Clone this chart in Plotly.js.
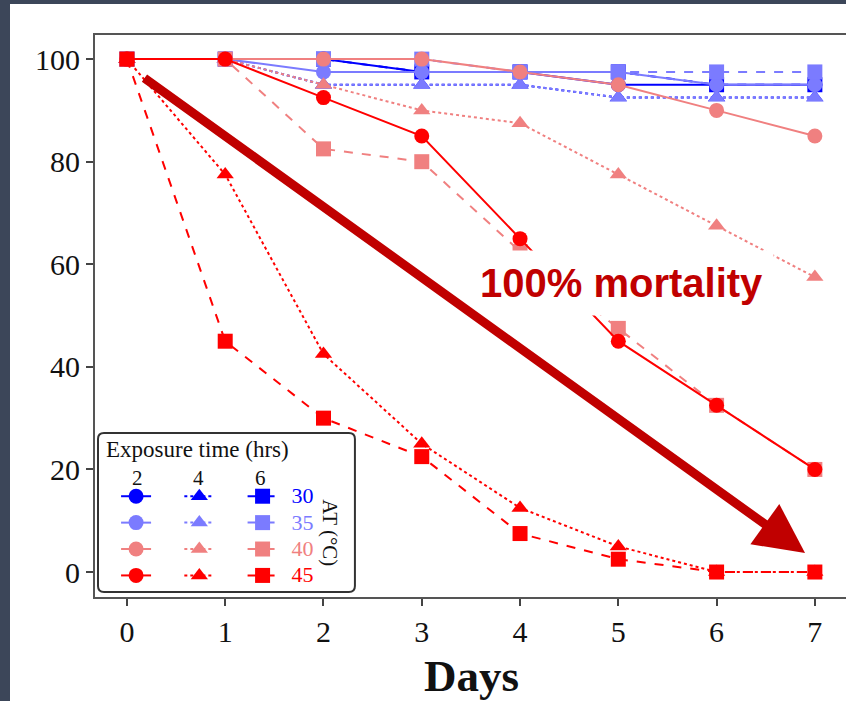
<!DOCTYPE html>
<html>
<head>
<meta charset="utf-8">
<script src="https://cdn.plot.ly/plotly-3.0.1.min.js"></script>
<style>
  html, body { margin: 0; padding: 0; width: 846px; height: 701px; overflow: hidden; background: #3c4659; }
  #panel { position: absolute; left: 10px; top: 4px; right: 0; bottom: 0; background: #ffffff; }
  #plot { position: absolute; left: 0; top: 0; width: 880px; height: 701px; }
</style>
</head>
<body>
<div id="panel"></div>
<div id="plot"></div>
<script>
// ---- data ----
const days = [0, 1, 2, 3, 4, 5, 6, 7];
const temps = ['30', '35', '40', '45'];
const exposures = ['2', '4', '6'];

const at30_h2 = [100, 100, 100, 97.5, 97.5, 95, 95, 95];
const at30_h4 = [100, 100, 95, 95, 95, 92.5, 92.5, 92.5];
const at30_h6 = [100, 100, 100, 97.5, 97.5, 97.5, 95, 95];

const at35_h2 = [100, 100, 97.5, 97.5, 97.5, 97.5, 95, 95];
const at35_h4 = [100, 100, 95, 95, 95, 92.5, 92.5, 92.5];
const at35_h6 = [100, 100, 100, 100, 97.5, 97.5, 97.5, 97.5];

const at40_h2 = [100, 100, 100, 100, 97.5, 95, 90, 85];
const at40_h4 = [100, 100, 95, 90, 87.5, 77.5, 67.5, 57.5];
const at40_h6 = [100, 100, 82.5, 80, 62.5, 47.5, 32.5, 20];

const at45_h2 = [100, 100, 92.5, 85, 65, 45, 32.5, 20];
const at45_h4 = [100, 77.5, 42.5, 25, 12.5, 5, 0, 0];
const at45_h6 = [100, 45, 30, 22.5, 7.5, 2.5, 0, 0];

const yTicks = [0, 20, 40, 60, 80, 100];
const xTicks = [0, 1, 2, 3, 4, 5, 6, 7];

const series = {
  '30': {'2': at30_h2, '4': at30_h4, '6': at30_h6},
  '35': {'2': at35_h2, '4': at35_h4, '6': at35_h6},
  '40': {'2': at40_h2, '4': at40_h4, '6': at40_h6},
  '45': {'2': at45_h2, '4': at45_h4, '6': at45_h6}
};

// ---- styles ----
const tempColor = {'30': '#0000ff', '35': '#7b7bff', '40': '#f08080', '45': '#ff0000'};
const expDash = {'2': 'solid', '4': 'dot', '6': 'dash'};
const expSymbol = {'2': 'circle', '4': 'triangle-up', '6': 'square'};
const serif = '"Liberation Serif", "Times New Roman", serif';
const NB = '\u00a0';

const traces = [];
temps.forEach(function (t) {
  exposures.forEach(function (e) {
    const label = (e === '6')
      ? NB.repeat(2) + '<span style="color:' + tempColor[t] + ';font-size:22px">' + t + '</span>'
      : '<span style="font-size:1px">' + NB + '</span>';
    traces.push({
      x: days,
      y: series[t][e],
      type: 'scatter',
      mode: 'lines+markers',
      name: label,
      legendgroup: 'h' + e,
      line: {color: tempColor[t], width: 2, dash: expDash[e]},
      marker: {color: tempColor[t], size: 15, symbol: expSymbol[e]},
      hoverinfo: 'skip'
    });
  });
});

// legend frame (paper coords of the plot area)
const bx0 = 0.0039, bx1 = 0.338, by0 = 0.0089, by1 = 0.2918, rx = 0.0078, ry = 0.0107;
const framePath = 'M' + (bx0 + rx) + ',' + by0 + ' L' + (bx1 - rx) + ',' + by0 +
  ' Q' + bx1 + ',' + by0 + ' ' + bx1 + ',' + (by0 + ry) + ' L' + bx1 + ',' + (by1 - ry) +
  ' Q' + bx1 + ',' + by1 + ' ' + (bx1 - rx) + ',' + by1 + ' L' + (bx0 + rx) + ',' + by1 +
  ' Q' + bx0 + ',' + by1 + ' ' + bx0 + ',' + (by1 - ry) + ' L' + bx0 + ',' + (by0 + ry) +
  ' Q' + bx0 + ',' + by0 + ' ' + (bx0 + rx) + ',' + by0 + ' Z';

const headerFont = {family: serif, size: 21, color: '#111'};
const headerX = [0.0559, 0.1352, 0.2146];
const headerAnnotations = exposures.map(function (e, i) {
  return {x: headerX[i], y: 0.2117, xref: 'paper', yref: 'paper', xanchor: 'center', yanchor: 'middle',
          text: e, showarrow: false, font: headerFont};
});

const layout = {
  width: 880,
  height: 701,
  margin: {l: 95, r: 16, t: 35, b: 104},
  paper_bgcolor: 'rgba(0,0,0,0)',
  plot_bgcolor: '#ffffff',
  showlegend: true,
  legend: {
    orientation: 'h',
    traceorder: 'grouped',
    x: 0.004, y: 0.2117, xanchor: 'left', yanchor: 'top',
    bgcolor: 'rgba(0,0,0,0)',
    borderwidth: 0,
    font: {family: serif, size: 18, color: '#111'},
    tracegroupgap: 0,
    itemwidth: 30,
    indentation: 18
  },
  shapes: [
    {type: 'path', xref: 'paper', yref: 'paper', path: framePath,
     fillcolor: '#ffffff', line: {color: '#333333', width: 2}, layer: 'above'}
  ],
  xaxis: {
    range: [-0.325, 7.5],
    tickvals: xTicks,
    ticks: 'outside', ticklen: 7, tickwidth: 2, tickcolor: '#444',
    showline: true, linecolor: '#555', linewidth: 2, mirror: true,
    showgrid: false, zeroline: false,
    tickfont: {family: serif, size: 30, color: '#111'}
  },
  yaxis: {
    range: [-4.87, 104.7],
    tickvals: yTicks,
    ticks: 'outside', ticklen: 7, tickwidth: 2, tickcolor: '#444',
    showline: true, linecolor: '#555', linewidth: 2, mirror: true,
    showgrid: false, zeroline: false,
    tickfont: {family: serif, size: 30, color: '#111'}
  },
  annotations: [
    {
      x: 5.036, y: 56.3, xref: 'x', yref: 'y',
      text: '<b>100% mortality</b>',
      showarrow: false,
      font: {family: '"Liberation Sans", Arial, sans-serif', size: 40, color: '#c00000'},
      bgcolor: '#ffffff',
      borderpad: 10
    },
    {
      x: 6.9, y: 3.7, xref: 'x', yref: 'y',
      ax: 0.163, ay: 96.5, axref: 'x', ayref: 'y',
      text: '',
      showarrow: true,
      arrowhead: 2, arrowsize: 1.1, arrowwidth: 9, arrowcolor: '#c00000'
    },
    {
      x: 0.0117, y: 0.262, xref: 'paper', yref: 'paper', xanchor: 'left', yanchor: 'middle',
      text: 'Exposure time (hrs)',
      showarrow: false,
      font: {family: serif, size: 23, color: '#111'}
    },
    {
      x: 0.3056, y: 0.115, xref: 'paper', yref: 'paper', xanchor: 'center', yanchor: 'middle',
      text: 'AT (\u00b0C)',
      textangle: 90,
      showarrow: false,
      font: {family: serif, size: 21, color: '#111'}
    },
    {
      x: 3.51, y: -0.14, xref: 'x', yref: 'paper', yanchor: 'middle',
      text: '<b>Days</b>',
      showarrow: false,
      font: {family: serif, size: 45, color: '#111'}
    }
  ].concat(headerAnnotations)
};

Plotly.newPlot('plot', traces, layout, {displayModeBar: false, staticPlot: true});
</script>
</body>
</html>
